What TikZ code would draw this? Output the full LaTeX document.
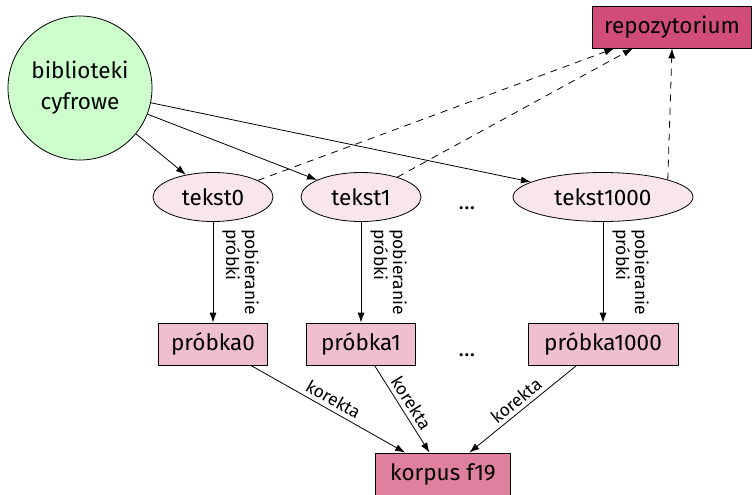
\documentclass[tikz,border=0pt]{standalone}
\usepackage{fontspec}
\setmainfont{Fira Sans}
\usetikzlibrary{arrows.meta,shapes.geometric}
\newcommand{\mainfnt}{\fontsize{22.5}{31}\selectfont}
\newcommand{\lblfnt}{\fontsize{17.5}{19}\selectfont}
\begin{document}
\begin{tikzpicture}[x=1pt,y=-1pt,
  base/.style={draw=black, line width=0.8pt, inner sep=0pt, font=\mainfnt},
  bibnode/.style={base, circle, fill=green!20, minimum size=144pt, align=center},
  repobox/.style={base, rectangle, fill=purple!70, minimum width=159pt, minimum height=42pt},
  tekstnode/.style={base, ellipse, fill=purple!10, minimum width=120pt, minimum height=49pt},
  probkabox/.style={base, rectangle, fill=purple!25, minimum width=109pt, minimum height=42pt},
  korpusbox/.style={base, rectangle, fill=purple!50, minimum width=135pt, minimum height=42pt},
  dotsnode/.style={inner sep=0pt, font=\mainfnt, anchor=base},
  conn/.style={-{Latex[length=10pt,width=7pt]}, line width=0.8pt},
  dconn/.style={conn, dash pattern=on 7pt off 6pt},
  lbl/.style={font=\lblfnt, inner sep=4pt},
  vlbl/.style={lbl, midway, anchor=south, rotate=-90, align=left, inner sep=9pt},
  slbl/.style={lbl, midway, sloped, above, inner sep=4pt}
]
\useasboundingbox (0,0) rectangle (755,495);
\node[bibnode] (bib) at (80,88) {biblioteki\\cyfrowe};
\node[repobox] (repo) at (672,27) {repozytorium};
\node[tekstnode] (t0) at (213,197) {tekst0};
\node[tekstnode] (t1) at (361,197) {tekst1};
\node[tekstnode, minimum width=180pt] (t1000) at (603,197) {tekst1000};
\node[dotsnode] (dotsa) at (467,209) {\ldots};
\node[probkabox] (p0) at (213,344) {próbka0};
\node[probkabox] (p1) at (361,344) {próbka1};
\node[probkabox, minimum width=150pt] (p1000) at (603,344) {próbka1000};
\node[dotsnode] (dotsb) at (467,356) {\ldots};
\node[korpusbox] (korpus) at (443,474) {korpus f19};

\draw[conn] (bib) -- (t0);
\draw[conn] (bib) -- (t1);
\draw[conn] (bib) -- (t1000);
\draw[dconn] (t0) -- (repo);
\draw[dconn] (t1) -- (repo);
\draw[dconn] (t1000.15) -- (repo.south);

\draw[conn] (t0) -- node[vlbl] (la) {pobieranie\\próbki} (p0);
\draw[conn] (t1) -- node[vlbl] (lb) {pobieranie\\próbki} (p1);
\draw[conn] (t1000) -- node[vlbl] (lc) {pobieranie\\próbki} (p1000);

\draw[conn] (p0) -- node[slbl] (ka) {korekta} (korpus);
\draw[conn] (p1) -- node[slbl] (kb) {korekta} (korpus);
\draw[conn] (p1000) -- node[slbl] (kc) {korekta} (korpus);
\end{tikzpicture}
\end{document}
